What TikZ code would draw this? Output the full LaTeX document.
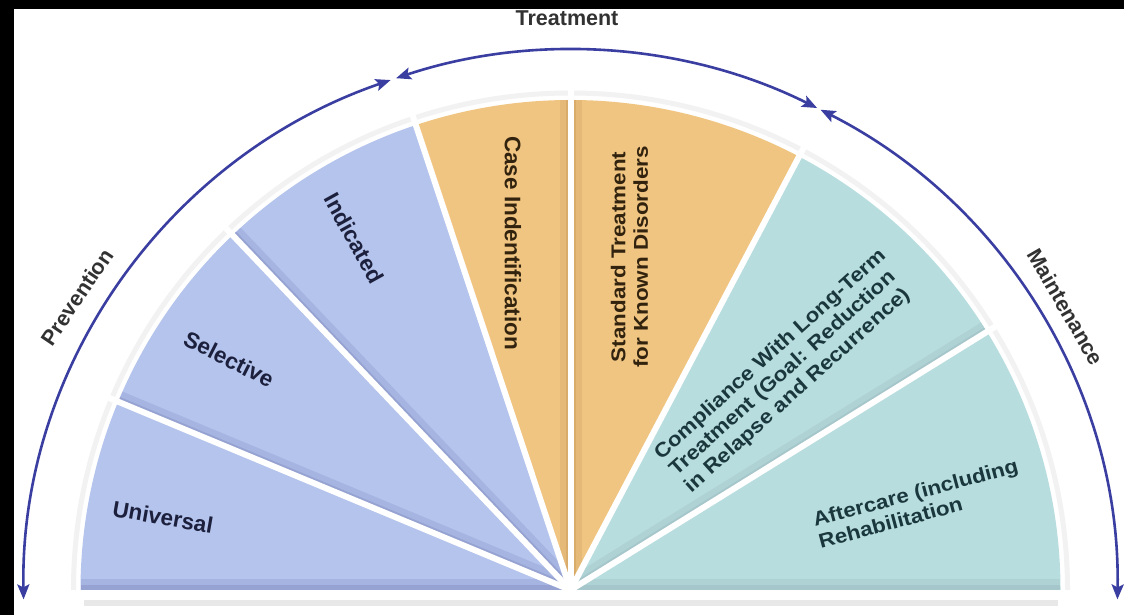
\documentclass[tikz,border=0pt]{standalone}
\usepackage{fontspec}
\usepackage{graphicx}
\setmainfont{Liberation Sans}
\usetikzlibrary{arrows.meta}
\definecolor{bluew}{RGB}{180,196,237}
\definecolor{orangew}{RGB}{240,197,130}
\definecolor{tealw}{RGB}{184,221,223}
\definecolor{arrowc}{RGB}{58,62,160}
\definecolor{txtb}{RGB}{28,32,60}
\definecolor{txto}{RGB}{50,35,15}
\definecolor{txtt}{RGB}{25,55,60}
\definecolor{outtxt}{RGB}{50,50,50}
\newcommand\fanwedge[3]{\fill[#3] (C) -- ++(#1:490) arc[start angle=#1, end angle=#2, radius=490] -- cycle;}
\newcommand\fanband[4]{%
  \begin{scope}
  \clip (C) -- ++(#1:490) arc[start angle=#1, end angle=#2, radius=490] -- cycle;
  \draw[line width=22pt, opacity=0.08, #4] (C) -- ++(#3:490);
  \draw[line width=10pt, opacity=0.09, #4] (C) -- ++(#3:490);
  \end{scope}}
\newcommand\widelines[2]{\scalebox{1.12}[1]{\def\arraystretch{1}\begin{tabular}{@{}#1@{}}#2\end{tabular}}}
\begin{document}
\begin{tikzpicture}[x=1pt,y=1pt,
  lbl/.style={font=\fontsize{22.5}{22.5}\selectfont\bfseries, inner sep=0pt},
  mlbl/.style={font=\fontsize{20}{22.5}\selectfont\bfseries, inner sep=0pt},
  outlbl/.style={font=\fontsize{21.5}{22}\selectfont\bfseries, text=outtxt, inner sep=0pt},
  sep/.style={white, line width=6pt},
  arr/.style={arrowc, line width=2.6pt, {Stealth[length=15pt,width=12pt,inset=3pt]}-{Stealth[length=15pt,width=12pt,inset=3pt]}}
]
\useasboundingbox (0,0) rectangle (1124,615);
\fill[black] (0,0) rectangle (1124,615);
\fill[white] (14,0) rectangle (1124,606);
\coordinate (C) at (570.5,25);

% soft shadows around the fan
\draw[black!9, line width=6pt] (84,12) -- (1058,12);
\draw[black!5, line width=5pt] (C) ++(0:497) arc[start angle=0, end angle=180, radius=497];

% wedges
\fanwedge{180}{157.4}{bluew}
\fanwedge{157.4}{133.6}{bluew}
\fanwedge{133.6}{108.4}{bluew}
\fanwedge{108.4}{90}{orangew}
\fanwedge{90}{62.2}{orangew}
\fanwedge{62.2}{31.8}{tealw}
\fanwedge{31.8}{0}{tealw}

% darker lower bands
\fanband{180}{157.4}{180}{black!70!blue}
\fanband{157.4}{133.6}{157.4}{black!70!blue}
\fanband{133.6}{108.4}{133.6}{black!70!blue}
\fanband{108.4}{90}{90}{black!60!orange}
\fanband{90}{62.2}{90}{black!60!orange}
\fanband{62.2}{31.8}{31.8}{black!70!cyan}
\fanband{31.8}{0}{0}{black!70!cyan}

% separators
\foreach \a in {157.4,133.6,108.4,90,62.2,31.8}
  \draw[sep] (C) -- ++(\a:500);
\draw[white, line width=7pt] (70,21.5) -- (1072,21.5);
\fill[white] (C) circle (6);

% arcs
\path (C) ++(181:547 and 540) coordinate (pa);
\path (C) ++(108.6:547 and 540) coordinate (ta);
\path (C) ++(62.8:547 and 540) coordinate (ma);
\draw[arr] (pa) arc[start angle=181, end angle=109.2, x radius=547, y radius=540];
\draw[arr] (ta) arc[start angle=108.6, end angle=63.2, x radius=547, y radius=540];
\draw[arr] (ma) arc[start angle=62.8, end angle=-1, x radius=547, y radius=540];

% outer labels
\node[outlbl] (treat) at (567,597) {Treatment};
\node[outlbl, rotate=56] (prev) at (77,318) {Prevention};
\node[outlbl, rotate=-60] (maint) at (1066,308) {Maintenance};

% wedge labels
\node[lbl, text=txtb, rotate=-10] (univ) at (163,98) {Universal};
\node[lbl, text=txtb, rotate=-27] (sel) at (229,256) {Selective};
\node[lbl, text=txtb, rotate=-61] (ind) at (354,377) {Indicated};
\node[lbl, text=txto, rotate=-90] (case) at (513,372) {Case Indentification};
\node[mlbl, text=txto, rotate=90] (std) at (632,358) {\widelines{c}{Standard Treatment\\for Known Disorders}};
\node[mlbl, text=txtt, rotate=42] (comp) at (786,243) {\widelines{l}{Compliance With Long-Term\\Treatment (Goal: Reduction\\in Relapse and Recurrence)}};
\node[mlbl, text=txtt, rotate=15] (after) at (919,109) {\widelines{l}{Aftercare (including\\Rehabilitation}};
\end{tikzpicture}
\end{document}
